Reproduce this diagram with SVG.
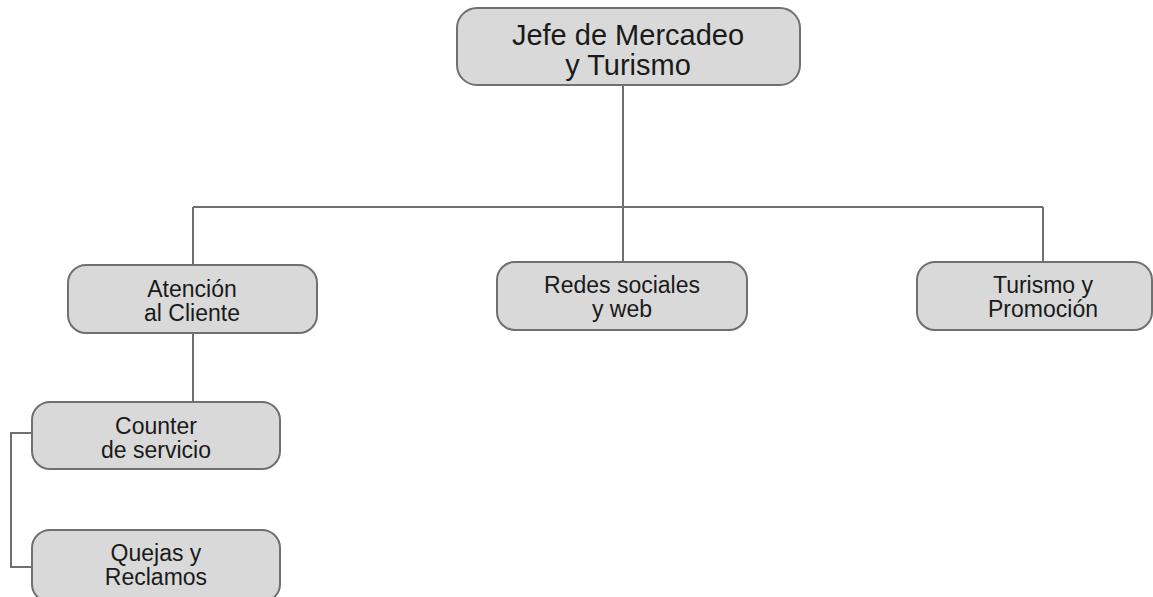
<svg xmlns="http://www.w3.org/2000/svg" width="1153" height="597" viewBox="0 0 1153 597">
<style>
.box{fill:#d9d9d9;stroke:#707070;stroke-width:2}
.ln{fill:none;stroke:#707070;stroke-width:2}
text{font-family:"Liberation Sans",Arial,sans-serif;fill:#1a1a1a;text-anchor:middle}
.t1{font-size:29px}
.t2{font-size:23px}
</style>
<rect width="1153" height="597" fill="#ffffff"/>
<g id="connectors">
<path class="ln" d="M623 85V207M193 207H1043M193 207V265M623 207V262M1043 207V262M193 333V402M32 433H11V567H32"/>
</g>
<g id="jefe">
<rect class="box" x="457" y="8" width="343" height="77" rx="20"/>
<text class="t1" x="628" y="45">Jefe de Mercadeo</text>
<text class="t1" x="628" y="75">y Turismo</text>
</g>
<g id="atencion">
<rect class="box" x="68" y="265" width="249" height="68" rx="18"/>
<text class="t2" x="192" y="297">Atención</text>
<text class="t2" x="192" y="321">al Cliente</text>
</g>
<g id="redes">
<rect class="box" x="497" y="262" width="250" height="68" rx="18"/>
<text class="t2" x="622" y="293">Redes sociales</text>
<text class="t2" x="622" y="317">y web</text>
</g>
<g id="turismo">
<rect class="box" x="917" y="262" width="235" height="68" rx="18"/>
<text class="t2" x="1043" y="293">Turismo y</text>
<text class="t2" x="1043" y="317">Promoción</text>
</g>
<g id="counter">
<rect class="box" x="32" y="402" width="248" height="67" rx="18"/>
<text class="t2" x="156" y="434">Counter</text>
<text class="t2" x="156" y="458">de servicio</text>
</g>
<g id="quejas">
<rect class="box" x="32" y="530" width="248" height="72" rx="18"/>
<text class="t2" x="156" y="561">Quejas y</text>
<text class="t2" x="156" y="585">Reclamos</text>
</g>
</svg>
